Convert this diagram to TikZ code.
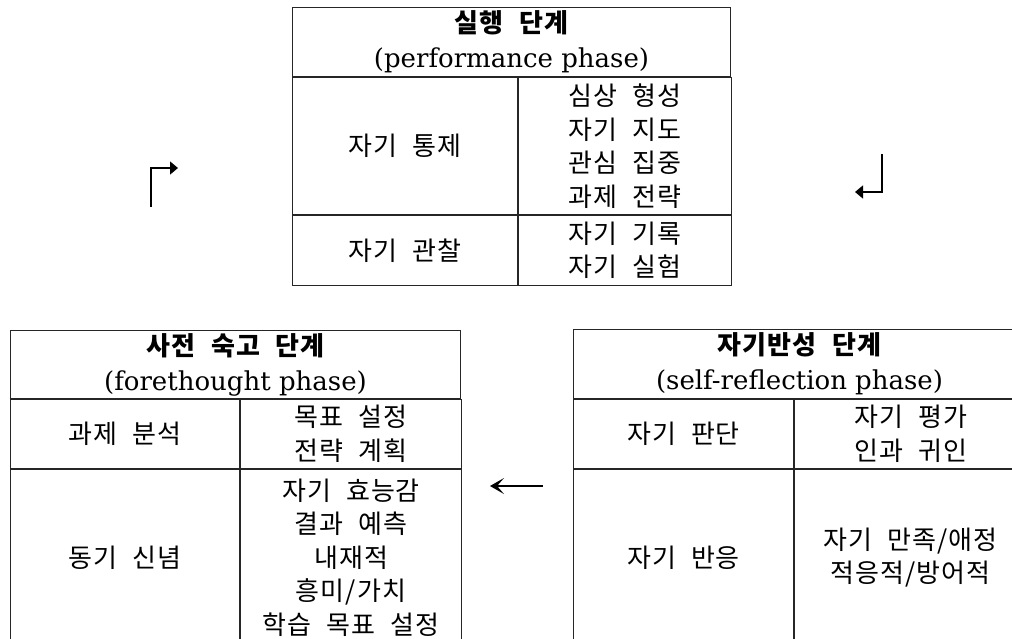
\documentclass[tikz,border=0pt]{standalone}
\usepackage{fontspec}
\setmainfont{DejaVu Serif}
\newfontfamily\kr[WordSpace=2.2,LetterSpace=4]{Noto Sans CJK KR}
\usetikzlibrary{arrows.meta,positioning}

\begin{document}
\begin{tikzpicture}[x=1pt,y=-1pt,
                    cell/.style={draw=black!85,line width=1pt,inner sep=0pt,
                                 anchor=north west,align=center,
                                 font=\kr\fontsize{26}{33.5}\selectfont},
                    head/.style={cell,font=\fontsize{26}{35}\selectfont},
                    turn/.style={line width=1.4pt,-{Triangle[length=8pt,width=13pt]}},
                    back/.style={line width=1.2pt,-{Stealth[length=14pt,width=16pt,inset=7pt]}}]

  \useasboundingbox (0,0) rectangle (1012,638);
  \clip (0,0) rectangle (1012,638);

  % performance phase
  \node[head, minimum width=438, minimum height=69] (ph) at (292,7)
        {{\kr\bfseries 실행 단계}\\(performance phase)};
  \node[cell, minimum width=225, minimum height=137] (pa) at (ph.south west) {자기 통제};
  \node[cell, minimum width=213, minimum height=137] (pb) at (pa.north east)
        {심상 형성\\자기 지도\\관심 집중\\과제 전략};
  \node[cell, minimum width=225, minimum height=70]  (pc) at (pa.south west) {자기 관찰};
  \node[cell, minimum width=213, minimum height=70]  (pd) at (pc.north east)
        {자기 기록\\자기 실험};

  % forethought phase
  \node[head, minimum width=450, minimum height=68] (fh) at (10,330)
        {{\kr\bfseries 사전 숙고 단계}\\(forethought phase)};
  \node[cell, minimum width=229, minimum height=69]  (fa) at (fh.south west) {과제 분석};
  \node[cell, minimum width=221, minimum height=69]  (fb) at (fa.north east)
        {목표 설정\\전략 계획};
  \node[cell, minimum width=229, minimum height=176] (fc) at (fa.south west) {동기 신념};
  \node[cell, minimum width=221, minimum height=176] (fd) at (fc.north east)
        {자기 효능감\\결과 예측\\내재적\\흥미/가치\\학습 목표 설정};

  % self-reflection phase
  \node[head, minimum width=452, minimum height=69] (sh) at (573,329)
        {{\kr\bfseries 자기반성 단계}\\(self-reflection phase)};
  \node[cell, minimum width=220, minimum height=69]  (sa) at (sh.south west) {자기 판단};
  \node[cell, minimum width=232, minimum height=69]  (sb) at (sa.north east)
        {자기 평가\\인과 귀인};
  \node[cell, minimum width=220, minimum height=176] (sc) at (sa.south west) {자기 반응};
  \node[cell, minimum width=232, minimum height=176] (sd) at (sc.north east)
        {자기 만족/애정\\적응적/방어적};

  % cycle arrows
  \coordinate (up0) at (151,207);
  \coordinate (up1) at (178,168);
  \coordinate (dn0) at (882,154);
  \coordinate (dn1) at (855,192);
  \coordinate (bk0) at (543,486);
  \coordinate (bk1) at (490,486);

  \draw[turn] (up0) |- (up1);
  \draw[turn] (dn0) |- (dn1);
  \draw[back] (bk0) -- (bk1);
\end{tikzpicture}
\end{document}
